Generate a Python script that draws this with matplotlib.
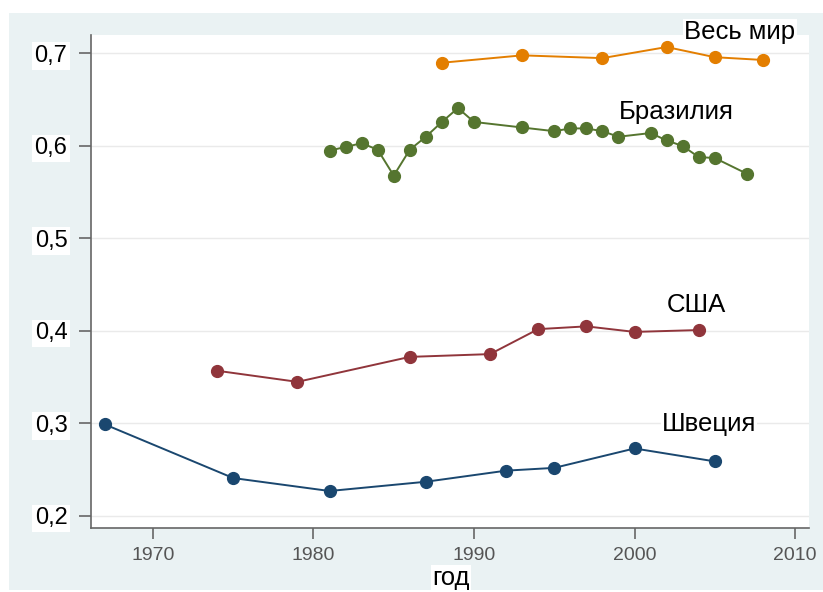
import matplotlib.pyplot as plt
from matplotlib.patches import Rectangle

plt.rcParams['font.family'] = ['Liberation Sans', 'DejaVu Sans']

# Данные (индекс Джини по годам)
sweden_years = [1967, 1975, 1981, 1987, 1992, 1995, 2000, 2005]
sweden_vals = [0.299, 0.241, 0.227, 0.237, 0.249, 0.252, 0.273, 0.259]

usa_years = [1974, 1979, 1986, 1991, 1994, 1997, 2000, 2004]
usa_vals = [0.357, 0.345, 0.372, 0.375, 0.402, 0.405, 0.399, 0.401]

brazil_years = [1981, 1982, 1983, 1984, 1985, 1986, 1987, 1988, 1989, 1990,
                1993, 1995, 1996, 1997, 1998, 1999, 2001, 2002, 2003, 2004,
                2005, 2007]
brazil_vals = [0.595, 0.599, 0.603, 0.596, 0.568, 0.596, 0.610, 0.626, 0.641, 0.626,
               0.620, 0.616, 0.619, 0.619, 0.616, 0.610, 0.614, 0.606, 0.600, 0.588,
               0.587, 0.570]

world_years = [1988, 1993, 1998, 2002, 2005, 2008]
world_vals = [0.690, 0.698, 0.695, 0.707, 0.696, 0.693]

y_ticks = [0.2, 0.3, 0.4, 0.5, 0.6, 0.7]
y_labels = ['0,2', '0,3', '0,4', '0,5', '0,6', '0,7']
x_ticks = [1970, 1980, 1990, 2000, 2010]

fig = plt.figure(figsize=(8.23, 5.92), dpi=100)
fig.patches.append(Rectangle((9 / 823, 2 / 592), 814 / 823, 577 / 592,
                             transform=fig.transFigure, facecolor='#eaf2f3',
                             edgecolor='none', zorder=-1))

ax = fig.add_axes([91 / 823, 64 / 592, 718 / 823, 493 / 592])
ax.set_facecolor('white')

series = [
    (sweden_years, sweden_vals, '#1a476f'),
    (usa_years, usa_vals, '#90353b'),
    (brazil_years, brazil_vals, '#55752f'),
    (world_years, world_vals, '#e37e00'),
]
for xs, ys, c in series:
    ax.plot(xs, ys, '-o', color=c, lw=1.4, markersize=8.5, zorder=3)

ax.set_xlim(1966.14, 2010.87)
ax.set_ylim(0.187, 0.72)

ax.set_yticks(y_ticks)
ax.set_yticklabels(y_labels)
ax.set_xticks(x_ticks)
ax.grid(axis='y', color='#eaeaea', lw=1)
ax.set_axisbelow(True)

for s in ['top', 'right']:
    ax.spines[s].set_visible(False)
for s in ['left', 'bottom']:
    ax.spines[s].set_color('#666666')
    ax.spines[s].set_linewidth(1.2)

ax.tick_params(axis='y', length=9, width=1.2, color='#666666', pad=8,
               labelsize=17, labelcolor='black')
ax.tick_params(axis='x', length=8, width=1.2, color='#666666', pad=6,
               labelsize=14, labelcolor='#555555')
for lab in ax.get_yticklabels():
    lab.set_bbox(dict(facecolor='white', edgecolor='none', pad=2))

box = dict(facecolor='white', edgecolor='none', pad=1)
ax.text(2003.1, 0.723, 'Весь мир', fontsize=18.5, va='center', ha='left', bbox=box, zorder=2)
ax.text(1999.0, 0.637, 'Бразилия', fontsize=18.5, va='center', ha='left', bbox=box, zorder=2)
ax.text(2002.0, 0.428, 'США', fontsize=18.5, va='center', ha='left', bbox=box, zorder=2)
ax.text(2001.7, 0.299, 'Швеция', fontsize=18.5, va='center', ha='left', bbox=box, zorder=2)

fig.text(432 / 823, 1 - 578 / 592, 'год', fontsize=18.5, va='center', ha='left',
         bbox=dict(facecolor='white', edgecolor='none', pad=1))

fig.savefig('out.png', dpi=100, facecolor='white')
